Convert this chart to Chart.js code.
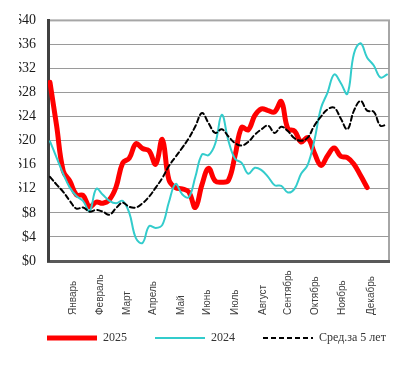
<!DOCTYPE html>
<html>
<head>
<meta charset="utf-8">
<script src="https://cdn.jsdelivr.net/npm/chart.js@4/dist/chart.umd.min.js"></script>
<style>
  html, body { margin: 0; padding: 0; background: #fff; }
</style>
</head>
<body>
<canvas id="priceChart" width="419" height="367"></canvas>
<script>
// weekly points, Jan..Dec
const weeks = [0,1,2,3,4,5,6,7,8,9,10,11,12,13,14,15,16,17,18,19,20,21,22,23,24,25,
  26,27,28,29,30,31,32,33,34,35,36,37,38,39,40,41,42,43,44,45,46,47,48,49,50,51];
const months = ['Январь','Февраль','Март','Апрель','Май','Июнь','Июль','Август','Сентябрь','Октябрь','Ноябрь','Декабрь'];
const monthPos = [3.5, 7.6, 11.7, 15.6, 19.9, 23.8, 28.1, 32.2, 36.1, 40.2, 44.3, 48.6];
const seriesNames = ['2025', '2024', 'Сред.за 5 лет'];

const price2025 = [29.7,22.5,15,13.3,11,10.9,9,9.8,9.6,10.2,12.3,16.3,17.1,19.5,18.7,18.3,16.1,20.2,13.5,12.2,
  12,11.5,8.9,12.7,15.4,13.3,13.1,13.4,17.5,22.2,21.8,24.2,25.3,25,24.8,26.5,22,21.6,19.8,20.5,
  18,15.9,17.5,18.8,17.4,17.2,16.1,14.2,12.2];
const price2024 = [19.9,17.2,14.5,12.2,10.8,10,8.3,12,11,10,9.6,10,8,3.8,3,5.8,5.5,6,9.8,12.8,
  11.1,10.6,14,17.7,17.6,19.5,24.3,20,17,16.3,14.5,15.5,15.1,14,12.6,12.5,11.4,12,14.5,16,
  20,25.4,28,31,29.6,27.8,34.5,36.2,33.8,32.5,30.5,31];
const avg5y = [14,12.7,11.5,10,8.7,8.9,8.2,8.5,8.2,7.7,8.8,9.7,9,8.9,9.6,10.7,12.2,13.8,15.8,17.3,
  18.8,20.4,22.4,24.6,22.9,21.3,21.9,20.7,19.6,19.2,19.8,21,21.9,22.5,21.3,22.3,21.6,20.4,20,20.5,
  22.5,24,25.2,25.5,23.7,21.9,25,26.6,25,24.8,22.5,22.7];

const plotFrame = {
  id: 'plotFrame',
  beforeDraw(chart) {
    const { ctx, chartArea: a } = chart;
    ctx.save();
    ctx.strokeStyle = '#a6a6a6';
    ctx.lineWidth = 2;
    ctx.strokeRect(a.left, a.top, a.right - a.left, a.bottom - a.top);
    ctx.restore();
  }
};

const monthLabels = {
  id: 'monthLabels',
  afterDraw(chart) {
    const { ctx } = chart;
    const x = chart.scales.x;
    ctx.save();
    ctx.font = '10px "Liberation Sans", Arial, sans-serif';
    ctx.fillStyle = '#404040';
    ctx.textAlign = 'left';
    ctx.textBaseline = 'middle';
    months.forEach((m, i) => {
      ctx.save();
      ctx.translate(x.getPixelForValue(monthPos[i]), 315);
      ctx.rotate(-Math.PI / 2);
      ctx.fillText(m, 0, 0);
      ctx.restore();
    });
    ctx.restore();
  }
};

new Chart(document.getElementById('priceChart'), {
  type: 'line',
  data: {
    labels: weeks,
    datasets: [{
      label: seriesNames[0],
      data: price2025,
      borderColor: '#ff0000',
      backgroundColor: '#ff0000',
      borderWidth: 5,
      order: 3
    }, {
      label: seriesNames[1],
      data: price2024,
      borderColor: '#33cccc',
      backgroundColor: '#33cccc',
      borderWidth: 2,
      order: 2
    }, {
      label: seriesNames[2],
      data: avg5y,
      borderColor: '#000000',
      backgroundColor: '#000000',
      borderWidth: 2,
      borderDash: [5, 3],
      order: 1
    }]
  },
  options: {
    responsive: false,
    animation: false,
    layout: { padding: { left: 19, right: 0, top: 18, bottom: 13 } },
    elements: {
      point: { radius: 0 },
      line: { tension: 0.4, borderCapStyle: 'round', borderJoinStyle: 'round' }
    },
    scales: {
      x: {
        type: 'linear',
        min: -0.3,
        max: 51.3,
        grid: { display: false },
        border: { color: '#595959', width: 3 },
        ticks: { display: false },
        afterFit: s => { s.height = 43; }
      },
      y: {
        min: 0,
        max: 40,
        afterFit: s => { s.width = 29; },
        ticks: {
          stepSize: 4,
          padding: 12,
          color: '#1a1a1a',
          font: { family: '"Liberation Serif", "Times New Roman", serif', size: 14 },
          callback: v => '$' + v
        },
        grid: {
          drawTicks: false,
          color: c => (c.tick.value === 0 || c.tick.value === 40) ? 'rgba(0,0,0,0)' : '#9a9a9a',
          lineWidth: 1
        },
        border: { color: '#404040', width: 3 }
      },
      // empty right-hand margin so the plot ends where the original does
      yRight: {
        position: 'right',
        grid: { display: false },
        border: { display: false },
        ticks: { display: false },
        afterFit: s => { s.width = 30; }
      }
    },
    plugins: {
      tooltip: { enabled: false },
      legend: {
        position: 'bottom',
        align: 'start',
        labels: {
          usePointStyle: true,
          pointStyle: 'line',
          pointStyleWidth: 50,
          padding: 28,
          color: '#333333',
          font: { family: '"Liberation Serif", "Times New Roman", serif', size: 12 },
          sort: (a, b) => a.datasetIndex - b.datasetIndex,
          generateLabels: chart => Chart.defaults.plugins.legend.labels.generateLabels(chart).map(item => {
            const ds = chart.data.datasets[item.datasetIndex];
            item.lineDash = ds.borderDash || [];
            item.lineWidth = ds.borderWidth;
            item.strokeStyle = ds.borderColor;
            item.lineCap = 'butt';
            return item;
          })
        }
      }
    }
  },
  plugins: [plotFrame, monthLabels]
});
</script>
</body>
</html>
